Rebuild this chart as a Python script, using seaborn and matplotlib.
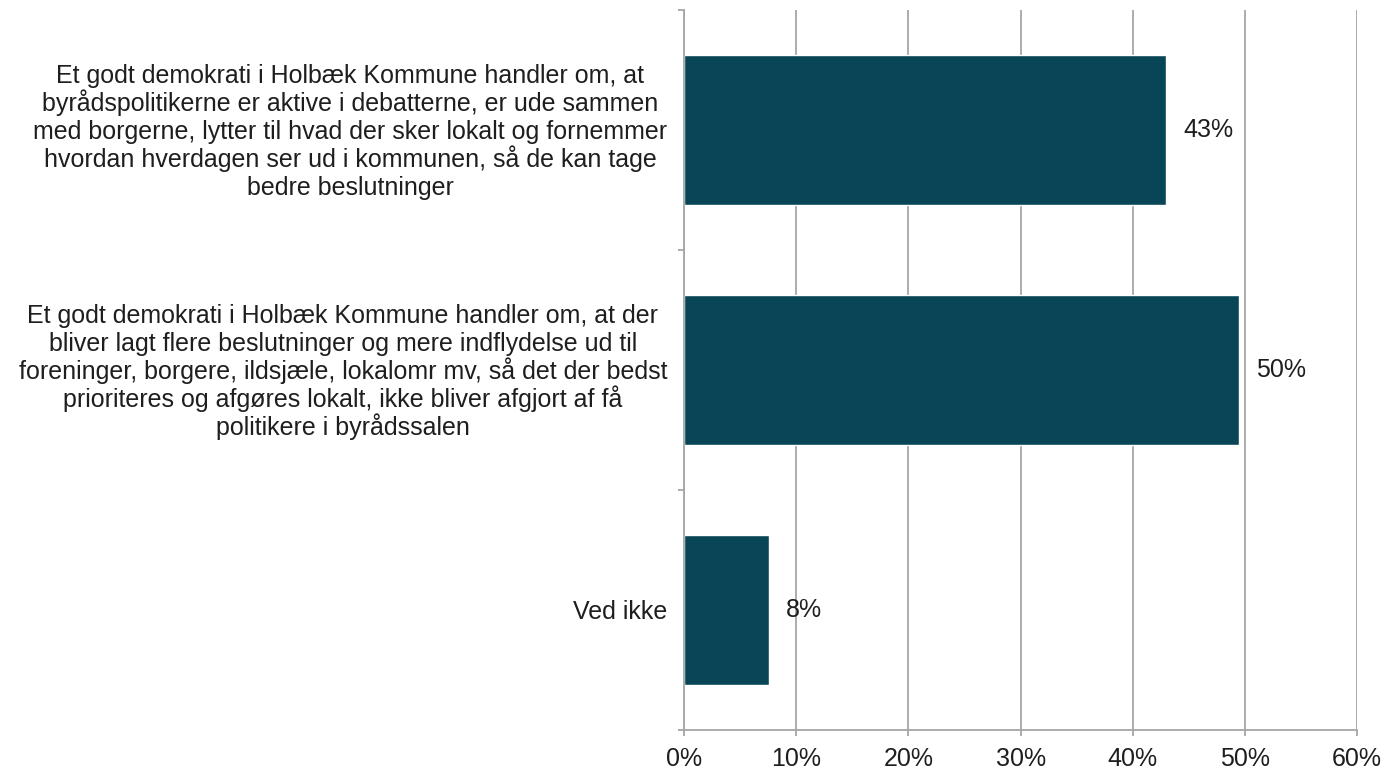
import pandas as pd
import seaborn as sns
import matplotlib.pyplot as plt
from matplotlib.ticker import FuncFormatter, FixedLocator
from matplotlib.transforms import ScaledTranslation

# Survey answers (share of respondents, %)
categories = [
    "Et godt demokrati i Holbæk Kommune handler om, at\n"
    "byrådspolitikerne er aktive i debatterne, er ude sammen\n"
    "med borgerne, lytter til hvad der sker lokalt og fornemmer\n"
    "hvordan hverdagen ser ud i kommunen, så de kan tage\n"
    "bedre beslutninger",
    "Et godt demokrati i Holbæk Kommune handler om, at der\n"
    "bliver lagt flere beslutninger og mere indflydelse ud til\n"
    "foreninger, borgere, ildsjæle, lokalomr mv, så det der bedst\n"
    "prioriteres og afgøres lokalt, ikke bliver afgjort af få\n"
    "politikere i byrådssalen",
    "Ved ikke",
]
shares = [43.0, 49.5, 7.6]
value_labels = ["43%", "50%", "8%"]
x_ticks = [0, 10, 20, 30, 40, 50, 60]

df = pd.DataFrame({"Svar": categories, "Andel": shares})

sns.set_theme(style="white")
plt.rcParams["font.family"] = ["Liberation Sans", "DejaVu Sans"]

bar_color = "#084657"
grid_color = "#a6a6a6"
text_color = "#1e1e1e"
fsize = 18
line_step = 20.3   # points between label lines
label_pad = 17     # pixels between labels and axis

fig = plt.figure(figsize=(13.85, 7.73), dpi=100)
ax = fig.add_axes([0.4939, 0.0556, 0.4860, 0.9314])

sns.barplot(data=df, y="Svar", x="Andel", orient="h", color=bar_color,
            width=0.625, saturation=1, ax=ax)

ax.set_xlim(0, 60)
ax.set_ylim(2.5, -0.5)
ax.xaxis.set_major_locator(FixedLocator(x_ticks))
ax.xaxis.set_major_formatter(FuncFormatter(lambda v, p: f"{v:.0f}%"))
ax.set_axisbelow(True)
ax.grid(axis="x", color=grid_color, linewidth=1.3)
ax.grid(axis="y", visible=False)

ax.set_xlabel("")
ax.set_ylabel("")

for side in ["top", "right"]:
    ax.spines[side].set_visible(False)
for side in ["left", "bottom"]:
    ax.spines[side].set_color(grid_color)
    ax.spines[side].set_linewidth(1.3)

# boundary ticks between categories; labels drawn by hand for even line spacing
ax.set_yticks(range(len(categories)))
ax.set_yticklabels([])
ax.set_yticks([-0.5, 0.5, 1.5, 2.5], minor=True)
ax.tick_params(axis="y", which="major", length=0)
ax.tick_params(axis="y", which="minor", left=True, length=4.5,
               width=1.3, color=grid_color)
ax.tick_params(axis="x", which="major", bottom=True, length=4.5, width=1.3,
               color=grid_color, labelsize=fsize, labelcolor=text_color, pad=8)

renderer = fig.canvas.get_renderer()
for i, label in enumerate(categories):
    lines = label.split("\n")
    widths = []
    for line in lines:
        tmp = ax.text(0, 0, line, fontsize=fsize)
        widths.append(tmp.get_window_extent(renderer).width)
        tmp.remove()
    block_w = max(widths)
    n = len(lines)
    for j, line in enumerate(lines):
        dy = ((n - 1) / 2 - j) * line_step - 0.36 * fsize
        off = ScaledTranslation(-(label_pad + block_w / 2) / fig.dpi, dy / 72,
                                fig.dpi_scale_trans)
        ax.text(0, i, line, fontsize=fsize, color=text_color,
                ha="center", va="baseline",
                transform=ax.get_yaxis_transform() + off)

ax.bar_label(ax.containers[0], labels=value_labels, padding=12,
             fontsize=fsize, color=text_color)

fig.savefig("out.png", dpi=100)
